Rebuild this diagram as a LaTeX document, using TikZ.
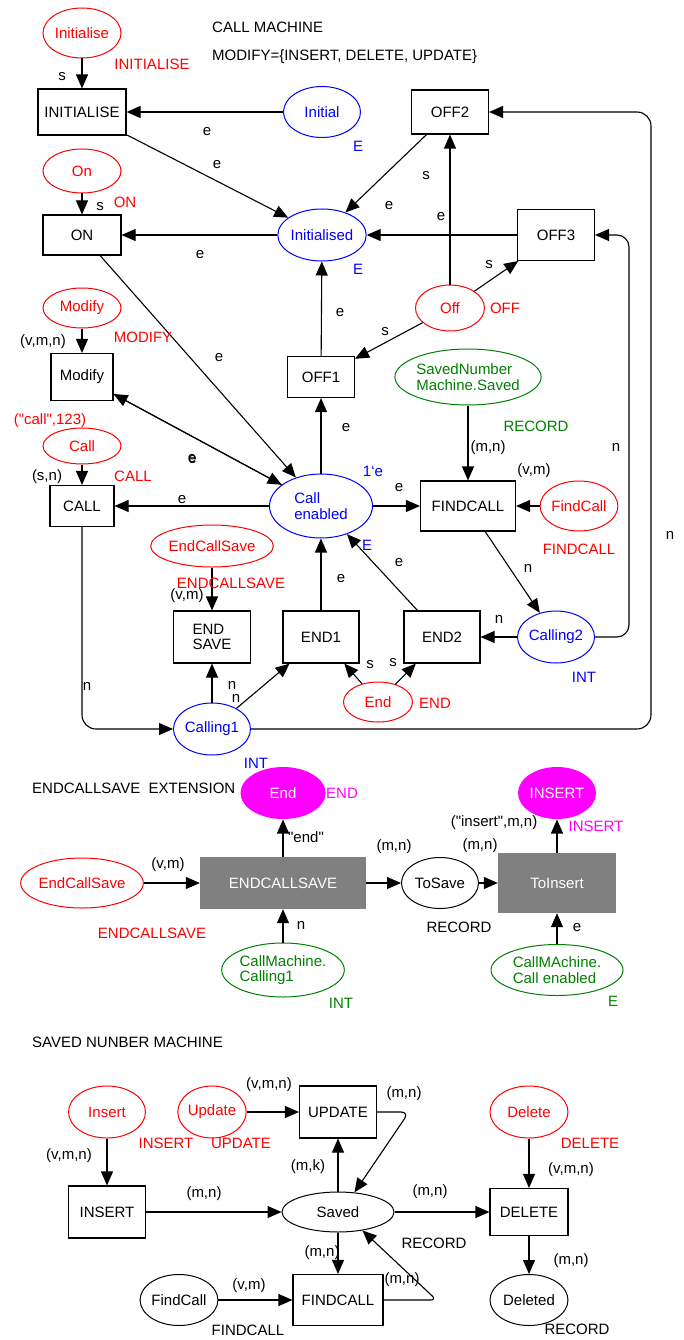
\documentclass[tikz,border=0pt]{standalone}
\usepackage{fontspec}
\setmainfont{Liberation Sans}[Ligatures=TeXOff]
\usetikzlibrary{shapes.geometric,arrows.meta,calc}
\definecolor{cred}{RGB}{255,0,0}
\definecolor{cblue}{RGB}{0,0,255}
\definecolor{cgreen}{RGB}{0,128,0}
\definecolor{cmag}{RGB}{255,0,255}
\definecolor{cgray}{RGB}{128,128,128}
\begin{document}
\begin{tikzpicture}[x=1pt,y=-1pt,
  font=\fontsize{15}{15.5}\selectfont,
  sz/.style 2 args={minimum width=#1pt, minimum height=#2pt},
  place/.style={ellipse, draw, line width=1pt, inner sep=0pt, align=left},
  rplace/.style={place, draw=cred, text=cred},
  bplace/.style={place, draw=cblue, text=cblue},
  gplace/.style={place, draw=cgreen, text=cgreen},
  mplace/.style={place, draw=none, fill=cmag, text=white},
  trans/.style={rectangle, draw, line width=1.1pt, inner sep=0pt, align=left},
  gtrans/.style={rectangle, draw=none, fill=cgray, text=white, inner sep=0pt},
  arc/.style={-{Triangle[length=14pt,width=12pt]}, line width=1.1pt},
  lbl/.style={inner sep=0pt},
  rl/.style={lbl, text=cred},
  bl/.style={lbl, text=cblue},
  gl/.style={lbl, text=cgreen},
  ml/.style={lbl, text=cmag}]
\useasboundingbox (0,0) rectangle (684,1340);

% ---------------- CALL MACHINE ----------------
\node[lbl, anchor=west] (title1) at (212,27) {CALL MACHINE};
\node[lbl, anchor=west] (title2) at (212,57) {MODIFY=\{INSERT, DELETE, UPDATE\}};

\node[rplace, sz={78}{50}] (pInitialise) at (82,33) {Initialise};
\node[trans, sz={88}{46}] (tINITIALISE) at (82,112) {INITIALISE};
\node[bplace, sz={77}{51}] (pInitial) at (322,112) {Initial};
\node[bplace, sz={77}{52}] (pInitialised) at (322,235) {Initialised};
\node[rplace, sz={78}{44}] (pOn) at (82,171) {On};
\node[trans, sz={78}{40}] (tON) at (82,235) {ON};
\node[trans, sz={77}{44}] (tOFF2) at (450,112) {OFF2};
\node[trans, sz={77}{51}] (tOFF3) at (556,235) {OFF3};
\node[rplace, sz={69}{46}] (pOff) at (450,308) {Off};
\node[trans, sz={67}{41}] (tOFF1) at (321,377) {OFF1};
\node[rplace, sz={78}{40}] (pModify) at (82,308) {Modify};
\node[trans, sz={62}{47}] (tModify) at (82,377) {Modify};
\node[rplace, sz={78}{36}] (pCall) at (82,446) {Call};
\node[trans, sz={64}{41}] (tCALL) at (82,506) {CALL};
\node[bplace, sz={103}{64}] (pCallEn) at (321,506) {Call\\enabled};
\node[trans, sz={95}{50}] (tFINDCALL) at (468,506) {FINDCALL};
\node[gplace, sz={146}{56}] (pSavedNum) at (468,377) {SavedNumber\\Machine.Saved};
\node[rplace, sz={76}{50}] (pFindCall) at (579,506) {FindCall};
\node[rplace, sz={110}{42}] (pEndCallSave) at (212,546) {EndCallSave};
\node[trans, sz={77}{52}] (tENDSAVE) at (212,637) {END\\SAVE};
\node[trans, sz={76}{52}] (tEND1) at (321,637) {END1};
\node[trans, sz={76}{52}] (tEND2) at (442,637) {END2};
\node[bplace, sz={77}{52}] (pCalling2) at (556,637) {Calling2};
\node[rplace, sz={69}{40}] (pEnd) at (378,702) {End};
\node[bplace, sz={77}{52}] (pCalling1) at (212,729) {Calling1};

\draw[arc] (pInitialise) -- (tINITIALISE);
\draw[arc] (pInitial) -- (tINITIALISE);
\draw[arc] (tINITIALISE) -- (pInitialised);
\draw[arc] (pInitialised) -- (tON);
\draw[arc] (tOFF2) -- (pInitialised);
\draw[arc] (tOFF3) -- (pInitialised);
\draw[arc] (pOff) -- (tOFF2);
\draw[arc] (pOff) -- (tOFF3);
\draw[arc] (pOff) -- (tOFF1);
\draw[arc] (tOFF1) -- (pInitialised);
\draw[arc] (pCallEn) -- (tOFF1);
\draw[arc] (pOn) -- (tON);
\draw[arc] (tON) -- (pCallEn);
\draw[arc] (tModify) -- (pCallEn);
\draw[arc] (pCallEn) -- (tModify);
\draw[arc] (pModify) -- (tModify);
\draw[arc] (pCall) -- (tCALL);
\draw[arc] (pCallEn) -- (tCALL);
\draw[arc] (pCallEn) -- (tFINDCALL);
\draw[arc] (pSavedNum) -- (tFINDCALL);
\draw[arc] (pFindCall) -- (tFINDCALL);
\draw[arc] (tFINDCALL) -- (pCalling2);
\draw[arc] (pCalling2) -- (tEND2);
\draw[arc, rounded corners=12pt] (pCalling2.east) -- ++(34,0) |- (tOFF3.east);
\draw[arc, rounded corners=14pt] (pCalling1.east) -- ++(400,0) |- (tOFF2.east);
\draw[arc, rounded corners=14pt] (tCALL.south) |- (pCalling1.west);
\draw[arc] (pCalling1) -- (tENDSAVE);
\draw[arc] (pCalling1) -- (tEND1);
\draw[arc] (pEndCallSave) -- (tENDSAVE);
\draw[arc] (tEND1) -- (pCallEn);
\draw[arc] (tEND2) -- (pCallEn);
\draw[arc] (pEnd) -- (tEND1);
\draw[arc] (pEnd) -- (tEND2);

\node[lbl] (l1) at (62,77) {s};
\node[rl] (l2) at (152,64) {INITIALISE};
\node[lbl] (l3) at (207,132) {e};
\node[lbl] (l4) at (217,165) {e};
\node[bl] (l5) at (358,146) {E};
\node[lbl] (l6) at (100,207) {s};
\node[rl] (l7) at (125,202) {ON};
\node[lbl] (l8) at (200,255) {e};
\node[bl] (l9) at (358,269) {E};
\node[lbl] (l10) at (389,206) {e};
\node[lbl] (l11) at (426,176) {s};
\node[lbl] (l12) at (441,217) {e};
\node[lbl] (l13) at (489,265) {s};
\node[rl] (l14) at (505,308) {OFF};
\node[lbl] (l15) at (385,332) {s};
\node[lbl] (l16) at (340,313) {e};
\node[lbl] (l17) at (43,342) {(v,m,n)};
\node[rl] (l18) at (143,337) {MODIFY};
\node[lbl] (l19) at (219,358) {e};
\node[rl] (l20) at (50,421) {("call",123)};
\node[lbl] (l21) at (192,459) {e};
\node[lbl] (l21b) at (192.6,459.3) {e};
\node[lbl] (l22) at (47,477) {(s,n)};
\node[rl] (l23) at (133,476) {CALL};
\node[lbl] (l24) at (182,500) {e};
\node[lbl] (l25) at (346,428) {e};
\node[bl] (l26) at (373,471) {1‘e};
\node[lbl] (l27) at (399,488) {e};
\node[bl] (l28) at (367,545) {E};
\node[gl] (l29) at (536,426) {RECORD};
\node[lbl] (l30) at (488,448) {(m,n)};
\node[lbl] (l31) at (534,471) {(v,m)};
\node[lbl] (l32) at (616,447) {n};
\node[lbl] (l33) at (670,535) {n};
\node[rl] (l34) at (579,549) {FINDCALL};
\node[lbl] (l35) at (528,568) {n};
\node[lbl] (l36) at (399,563) {e};
\node[lbl] (l37) at (341,579) {e};
\node[rl] (l38) at (231,583) {ENDCALLSAVE};
\node[lbl] (l39) at (187,596) {(v,m)};
\node[lbl] (l40) at (499,619) {n};
\node[bl] (l41) at (584,677) {INT};
\node[lbl] (l42) at (370,665) {s};
\node[lbl] (l43) at (393,663) {s};
\node[rl] (l44) at (435,703) {END};
\node[lbl] (l45) at (87,686) {n};
\node[lbl] (l46) at (232,685) {n};
\node[lbl] (l47) at (236,698) {n};
\node[bl] (l48) at (256,763) {INT};

% ---------------- EXTENSION ----------------
\node[lbl, anchor=west] (title3) at (32,788) {ENDCALLSAVE\ \ EXTENSION};
\node[mplace, sz={85}{52}] (pEndM) at (283,793) {End};
\node[gtrans, sz={166}{52}] (tECS) at (283,883) {ENDCALLSAVE};
\node[rplace, sz={108}{50}] (pECSm) at (82,883) {EndCallSave};
\node[gplace, sz={120}{54}] (pCMC1) at (283,970) {CallMachine.\\Calling1};
\node[place, sz={77}{51}] (pToSave) at (440,883) {ToSave};
\node[gtrans, sz={118}{60}] (tToInsert) at (557,883) {ToInsert};
\node[mplace, sz={78}{52}] (pINSERTm) at (557,793) {INSERT};
\node[gplace, sz={132}{51}] (pCMCE) at (557,970) {CallMAchine.\\Call enabled};

\draw[arc] (pECSm) -- (tECS);
\draw[arc] (tECS) -- (pEndM);
\draw[arc] (pCMC1) -- (tECS);
\draw[arc] (tECS) -- (pToSave);
\draw[arc] (pToSave) -- (tToInsert);
\draw[arc] (tToInsert) -- (pINSERTm);
\draw[arc] (pCMCE) -- (tToInsert);

\node[ml] (m1) at (342,793) {END};
\node[lbl] (m2) at (306,837) {"end"};
\node[lbl] (m3) at (168,865) {(v,m)};
\node[rl] (m4) at (152,933) {ENDCALLSAVE};
\node[lbl] (m5) at (301,925) {n};
\node[gl] (m6) at (341,1003) {INT};
\node[lbl] (m7) at (394,847) {(m,n)};
\node[lbl] (m8) at (459,927) {RECORD};
\node[lbl] (m9) at (494,823) {("insert",m,n)};
\node[lbl] (m10) at (480,846) {(m,n)};
\node[ml] (m11) at (596,826) {INSERT};
\node[lbl] (m12) at (577,928) {e};
\node[gl] (m13) at (613,1001) {E};

% ---------------- SAVED NUMBER MACHINE ----------------
\node[lbl, anchor=west] (title4) at (32,1042) {SAVED NUNBER MACHINE};
\node[rplace, sz={77}{52}] (pInsert) at (107,1112) {Insert};
\node[trans, sz={77}{52}] (tINSERT) at (107,1212) {INSERT};
\node[rplace, sz={67}{52}] (pUpdate) at (212,1112) {Update};
\node[trans, sz={77}{52}] (tUPDATE) at (338,1112) {UPDATE};
\node[place, sz={112}{40}] (pSaved) at (338,1212) {Saved};
\node[trans, sz={78}{47}] (tDELETE) at (529,1212) {DELETE};
\node[rplace, sz={78}{52}] (pDelete) at (529,1112) {Delete};
\node[place, sz={78}{51}] (pDeleted) at (529,1300) {Deleted};
\node[trans, sz={90}{51}] (tFINDCALLb) at (338,1300) {FINDCALL};
\node[place, sz={76}{51}] (pFindCallb) at (179,1300) {FindCall};

\draw[arc] (pInsert) -- (tINSERT);
\draw[arc] (tINSERT) -- (pSaved);
\draw[arc] (pUpdate) -- (tUPDATE);
\draw[arc] (pSaved) -- (tUPDATE);
\draw[arc, rounded corners=8pt] (tUPDATE.east) -- ++(32,0) -- (pSaved.50);
\draw[arc] (pSaved) -- (tDELETE);
\draw[arc] (pDelete) -- (tDELETE);
\draw[arc] (tDELETE) -- (pDeleted);
\draw[arc] (pSaved) -- (tFINDCALLb);
\draw[arc, rounded corners=6pt] (tFINDCALLb.east) -- ++(53,0) -- (pSaved.-37);
\draw[arc] (pFindCallb) -- (tFINDCALLb);

\node[rl] (b1) at (166,1143) {INSERT};
\node[lbl] (b2) at (69,1156) {(v,m,n)};
\node[rl] (b3) at (241,1143) {UPDATE};
\node[lbl] (b4) at (269,1085) {(v,m,n)};
\node[lbl] (b5) at (308,1167) {(m,k)};
\node[lbl] (b6) at (404,1094) {(m,n)};
\node[lbl] (b7) at (204,1194) {(m,n)};
\node[lbl] (b8) at (430,1192) {(m,n)};
\node[rl] (b9) at (590,1143) {DELETE};
\node[lbl] (b10) at (571,1170) {(v,m,n)};
\node[lbl] (b11) at (571,1261) {(m,n)};
\node[lbl] (b12) at (577,1329) {RECORD};
\node[lbl] (b13) at (434,1243) {RECORD};
\node[lbl] (b14) at (322,1253) {(m,n)};
\node[lbl] (b15) at (402,1280) {(m,n)};
\node[lbl] (b16) at (249,1286) {(v,m)};
\node[lbl] (b17) at (248,1330) {FINDCALL};
\end{tikzpicture}
\end{document}
